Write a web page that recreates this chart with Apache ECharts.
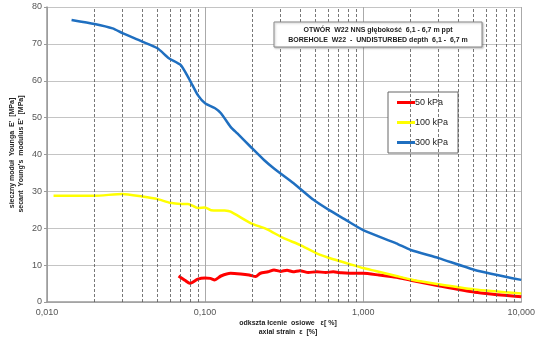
<!DOCTYPE html>
<html><head><meta charset="utf-8">
<script src="https://cdn.jsdelivr.net/npm/echarts@6/dist/echarts.min.js"></script>
<style>html,body{margin:0;padding:0;background:#fff}#c{width:538px;height:339px}</style>
</head><body><div id="c"></div>
<script>
const seriesNames = ['50 kPa', '100 kPa', '300 kPa'];
const seriesColors = ['#ff0000', '#ffff00', '#1f6fc0'];
// [axial strain %, secant Young's modulus MPa]
const red50 = [[0.068,7.05],[0.075,5.8],[0.08,5.06],[0.09,6.2],[0.1,6.5],[0.108,6.4],[0.115,6.0],[0.126,7.05],[0.145,7.8],[0.168,7.6],[0.19,7.3],[0.209,6.9],[0.224,7.8],[0.25,8.2],[0.273,8.7],[0.3,8.3],[0.33,8.6],[0.36,8.2],[0.398,8.5],[0.45,8.0],[0.508,8.2],[0.58,8.0],[0.647,8.2],[0.73,7.9],[0.82,7.8],[1.0,7.8],[1.26,7.3],[1.62,6.7],[2.0,5.9],[3.0,4.4],[5.08,2.65],[10,1.4]];
const yellow100 = [[0.011,28.8],[0.02,28.8],[0.03,29.3],[0.04,28.6],[0.05,27.9],[0.06,26.9],[0.07,26.6],[0.078,26.6],[0.09,25.5],[0.1,25.6],[0.109,24.9],[0.133,24.8],[0.145,24.5],[0.194,21.4],[0.247,19.7],[0.314,17.3],[0.398,15.5],[0.508,13.2],[0.647,11.6],[0.865,10.0],[1.0,9.2],[1.2,8.4],[1.62,7.05],[2.0,6.1],[3.0,4.8],[5.08,3.4],[10,2.3]];
const blue300 = [[0.0143,76.5],[0.02,75.4],[0.026,74.2],[0.03,72.9],[0.04,70.6],[0.05,68.8],[0.059,66.1],[0.07,64.3],[0.08,60.2],[0.09,56.1],[0.1,53.9],[0.115,52.6],[0.126,51.2],[0.145,47.5],[0.16,45.7],[0.194,42.1],[0.236,38.5],[0.273,36.2],[0.363,32.2],[0.485,27.7],[0.61,24.9],[0.78,22.2],[1.0,19.5],[1.62,15.9],[2.0,14.1],[3.0,11.9],[5.08,8.7],[10,6.0]];
const minorLines = [0.02,0.03,0.04,0.05,0.06,0.07,0.08,0.09,0.2,0.3,0.4,0.5,0.6,0.7,0.8,0.9,2,3,4,5,6,7,8,9];
const titleLines = ['OTWÓR  W22 NNS głębokość  6,1 - 6,7 m ppt', 'BOREHOLE  W22  -  UNDISTURBED depth  6,1 -  6,7 m'];
const yNameLines = ["sieczny moduł  Younga  E'  [MPa]", "secant  Young's  modulus E'  [MPa]"];
const xNameLines = ['odkszta łcenie  osiowe   ε[ %]', 'axial strain  ε  [%]'];

const chart = echarts.init(document.getElementById('c'), null, {renderer: 'canvas'});
const font = 'Liberation Sans, Arial, sans-serif';
const dataSets = [red50, yellow100, blue300];
const widths = [3, 2.5, 2.5];
const series = dataSets.map((d, i) => ({
  name: seriesNames[i], type: 'line', data: d, showSymbol: false, smooth: 0.2,
  lineStyle: {color: seriesColors[i], width: widths[i]}, itemStyle: {color: seriesColors[i]}, z: 3 + (2 - i) * 0 + i
}));
series.unshift({
  name: 'grid', type: 'line', data: [], silent: true, z: 1,
  markLine: {silent: true, symbol: 'none', label: {show: false},
    lineStyle: {type: [3, 2], color: '#555', width: 0.8},
    data: minorLines.map(v => ({xAxis: v}))}
});
chart.setOption({
  animation: false,
  backgroundColor: '#fff',
  grid: {left: 47, right: 11, top: 7, bottom: 37},
  xAxis: {type: 'log', logBase: 10, min: 0.01, max: 10,
    axisLine: {show: true, lineStyle: {color: '#999', width: 1.5}},
    axisTick: {show: false},
    axisLabel: {color: '#555', fontSize: 9, fontFamily: font, margin: 6,
      formatter: v => Number(v).toFixed(3).replace('.', ',')},
    splitLine: {show: true, lineStyle: {color: '#aaa', width: 1}}
  },
  yAxis: {type: 'value', min: 0, max: 80, interval: 10,
    axisLine: {show: true, lineStyle: {color: '#999', width: 1.5}},
    axisTick: {show: true, length: 3, lineStyle: {color: '#999'}},
    axisLabel: {color: '#555', fontSize: 9, fontFamily: font, margin: 5},
    splitLine: {show: true, lineStyle: {color: '#c4c4c4', width: 1.2}}
  },
  legend: {data: seriesNames, orient: 'vertical', left: 388, top: 92,
    itemWidth: 18, itemHeight: 3, itemGap: 11, icon: 'rect',
    padding: [6, 10, 6, 9], backgroundColor: '#fff', borderColor: '#666', borderWidth: 1,
    textStyle: {fontSize: 9, fontFamily: font, color: '#222', padding: [0,0,0,-5]}},
  graphic: [
    {type: 'rect', shape: {x: 274, y: 22, width: 208, height: 25}, z: 10,
      style: {fill: '#fff', stroke: '#888', lineWidth: 1, shadowBlur: 2, shadowColor: 'rgba(0,0,0,0.25)', shadowOffsetX: 1, shadowOffsetY: 1}},
    {type: 'text', x: 378, y: 30, z: 11, style: {text: titleLines[0], font: 'bold 7px ' + font, fill: '#222', textAlign: 'center', textVerticalAlign: 'middle'}},
    {type: 'text', x: 378, y: 40, z: 11, style: {text: titleLines[1], font: 'bold 7px ' + font, fill: '#222', textAlign: 'center', textVerticalAlign: 'middle'}},
    {type: 'text', x: 12, y: 153, rotation: Math.PI / 2, z: 11, style: {text: yNameLines[0], font: 'bold 7px ' + font, fill: '#222', textAlign: 'center', textVerticalAlign: 'middle'}},
    {type: 'text', x: 21, y: 154, rotation: Math.PI / 2, z: 11, style: {text: yNameLines[1], font: 'bold 7px ' + font, fill: '#222', textAlign: 'center', textVerticalAlign: 'middle'}},
    {type: 'text', x: 288, y: 323, z: 11, style: {text: xNameLines[0], font: 'bold 7px ' + font, fill: '#222', textAlign: 'center', textVerticalAlign: 'middle'}},
    {type: 'text', x: 288, y: 332, z: 11, style: {text: xNameLines[1], font: 'bold 7px ' + font, fill: '#222', textAlign: 'center', textVerticalAlign: 'middle'}}
  ],
  series: series
});
</script></body></html>
